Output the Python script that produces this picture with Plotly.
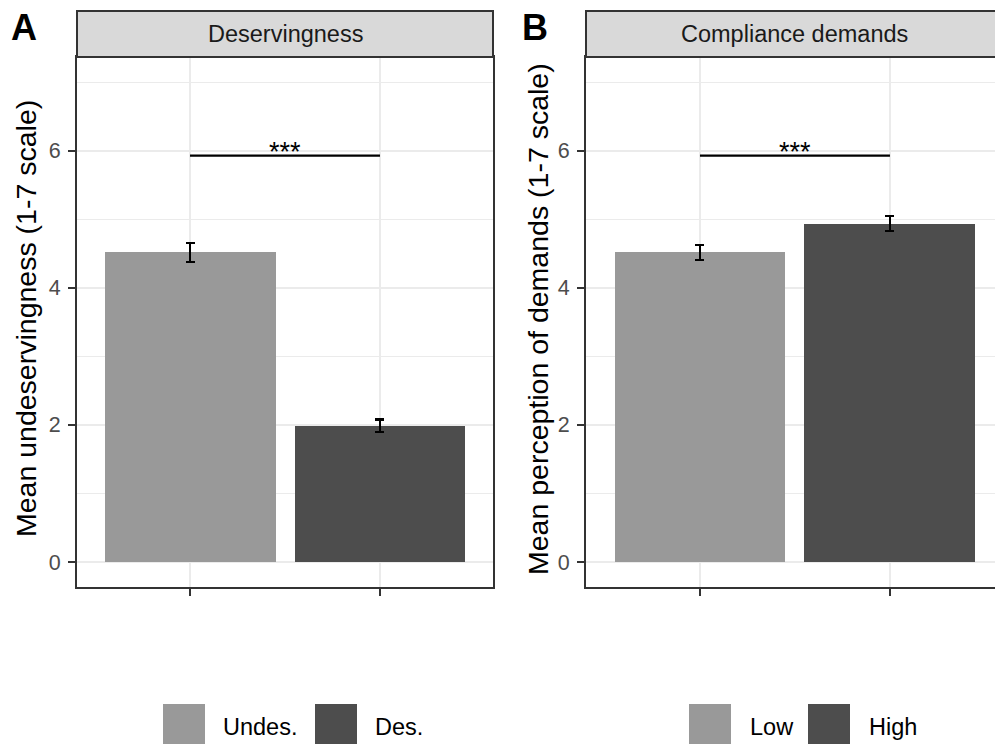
import plotly.graph_objects as go

# ---- data ----
groups_a = ["Undes.", "Des."]
means_a = [4.52, 1.99]
se_a = [0.14, 0.09]
groups_b = ["Low", "High"]
means_b = [4.52, 4.94]
se_b = [0.11, 0.11]
sig_y = [5.93, 5.93]
sig_label = ["***", "***"]
strip_titles = ["Deservingness", "Compliance demands"]
y_titles = ["Mean undeservingness (1-7 scale)", "Mean perception of demands (1-7 scale)"]
panel_letters = ["A", "B"]
colors = ["#999999", "#4D4D4D"]

W, H = 995, 744
FONT = "Liberation Sans, Arial, sans-serif"

def px_x(p):
    return p / W

def px_y(p):
    return 1 - p / H

plot_top, plot_bot = 57, 587
strip_top = 11
xa_dom = [px_x(77), px_x(493)]
xb_dom = [px_x(586), 1.0]
y_dom = [px_y(plot_bot), px_y(plot_top)]
yrange = [-0.365, 7.37]

fig = go.Figure()
fig.add_trace(go.Bar(
    x=groups_a, y=means_a, width=0.9, marker=dict(color=colors, line=dict(width=0)),
    error_y=dict(type="data", array=se_a, color="black", thickness=2.2, width=4.5),
    xaxis="x", yaxis="y", showlegend=False))
fig.add_trace(go.Bar(
    x=groups_b, y=means_b, width=0.9, marker=dict(color=colors, line=dict(width=0)),
    error_y=dict(type="data", array=se_b, color="black", thickness=2.2, width=4.5),
    xaxis="x2", yaxis="y2", showlegend=False))

ax_common = dict(
    showticklabels=False, ticks="outside", ticklen=7, tickwidth=2, tickcolor="#333333",
    showgrid=True, gridcolor="#EBEBEB", gridwidth=2,
    showline=True, linecolor="#333333", linewidth=2, zeroline=False, fixedrange=True,
)
y_common = dict(
    range=yrange, tickvals=[0, 2, 4, 6], ticks="outside", ticklen=7, tickwidth=2,
    tickcolor="#333333", tickfont=dict(size=21.5, color="#4D4D4D", family=FONT),
    ticklabelstandoff=3,
    showgrid=True, gridcolor="#EBEBEB", gridwidth=2,
    minor=dict(tickvals=[1, 3, 5, 7], showgrid=True, gridcolor="#EBEBEB", gridwidth=1, ticks=""),
    showline=True, linecolor="#333333", linewidth=2, zeroline=False, fixedrange=True,
)

fig.update_layout(
    width=W, height=H, margin=dict(l=0, r=0, t=0, b=0),
    paper_bgcolor="white", plot_bgcolor="white",
    font=dict(family=FONT, color="black"),
    xaxis=dict(domain=xa_dom, anchor="y", range=[-0.595, 1.595], mirror=True,
               categoryorder="array", categoryarray=groups_a, **ax_common),
    yaxis=dict(domain=y_dom, anchor="x", mirror=True, **y_common),
    xaxis2=dict(domain=xb_dom, anchor="y2", range=[-0.6, 1.553], mirror=True,
                categoryorder="array", categoryarray=groups_b, **ax_common),
    yaxis2=dict(domain=y_dom, anchor="x2", **y_common),
    bargap=0,
)

shapes = []
annotations = []
strip_y0, strip_y1 = px_y(plot_top), px_y(strip_top)

def ann(**kw):
    base = dict(showarrow=False, xanchor="center", yanchor="middle")
    base.update(kw)
    annotations.append(base)

for i, xr in enumerate(["x", "x2"]):
    x1 = 1 if i == 0 else 1.02
    shapes.append(dict(type="rect", xref=f"{xr} domain", yref="paper", x0=0, x1=x1,
                       y0=strip_y0, y1=strip_y1, fillcolor="#D9D9D9",
                       line=dict(color="#333333", width=2), layer="above"))
    yr = "y" if i == 0 else "y2"
    shapes.append(dict(type="line", xref=xr, yref=yr, x0=0, x1=1, y0=sig_y[i], y1=sig_y[i],
                       line=dict(color="black", width=2.2)))
    ann(xref=xr, yref=yr, x=0.5, y=sig_y[i], text=sig_label[i], yanchor="bottom", yshift=-13,
        font=dict(size=27, color="black", family=FONT))

ymid_strip = (strip_y0 + strip_y1) / 2
ann(xref="paper", yref="paper", x=px_x(285), y=ymid_strip, text=strip_titles[0],
    font=dict(size=23.5, color="#1A1A1A", family=FONT))
ann(xref="paper", yref="paper", x=px_x(794), y=ymid_strip, text=strip_titles[1],
    font=dict(size=23.5, color="#1A1A1A", family=FONT))

ymid = px_y((plot_top + plot_bot) / 2 - 3)
ann(xref="paper", yref="paper", x=px_x(26), y=ymid, text=y_titles[0], textangle=-90,
    font=dict(size=28.5, color="black", family=FONT))
ann(xref="paper", yref="paper", x=px_x(538), y=ymid, text=y_titles[1], textangle=-90,
    font=dict(size=28.5, color="black", family=FONT))

ann(xref="paper", yref="paper", x=px_x(24), y=px_y(28), text="<b>" + panel_letters[0] + "</b>",
    font=dict(size=36, color="black", family=FONT))
ann(xref="paper", yref="paper", x=px_x(535), y=px_y(28), text="<b>" + panel_letters[1] + "</b>",
    font=dict(size=36, color="black", family=FONT))

# legends
legend_items = [
    (groups_a[0], colors[0], 163, 221),
    (groups_a[1], colors[1], 315, 373),
    (groups_b[0], colors[0], 689, 748),
    (groups_b[1], colors[1], 808, 867),
]
for label, col, sx, tx in legend_items:
    shapes.append(dict(type="rect", xref="paper", yref="paper", x0=px_x(sx), x1=px_x(sx + 42),
                       y0=px_y(746), y1=px_y(704), fillcolor=col, line=dict(width=0)))
    ann(xref="paper", yref="paper", x=px_x(tx), y=px_y(727), text=label, xanchor="left",
        font=dict(size=23.5, color="black", family=FONT))

fig.update_layout(shapes=shapes, annotations=annotations)
fig.write_html("out.html", config={"displayModeBar": False},
               post_script="document.body.style.margin='0';document.body.style.overflow='hidden';")
